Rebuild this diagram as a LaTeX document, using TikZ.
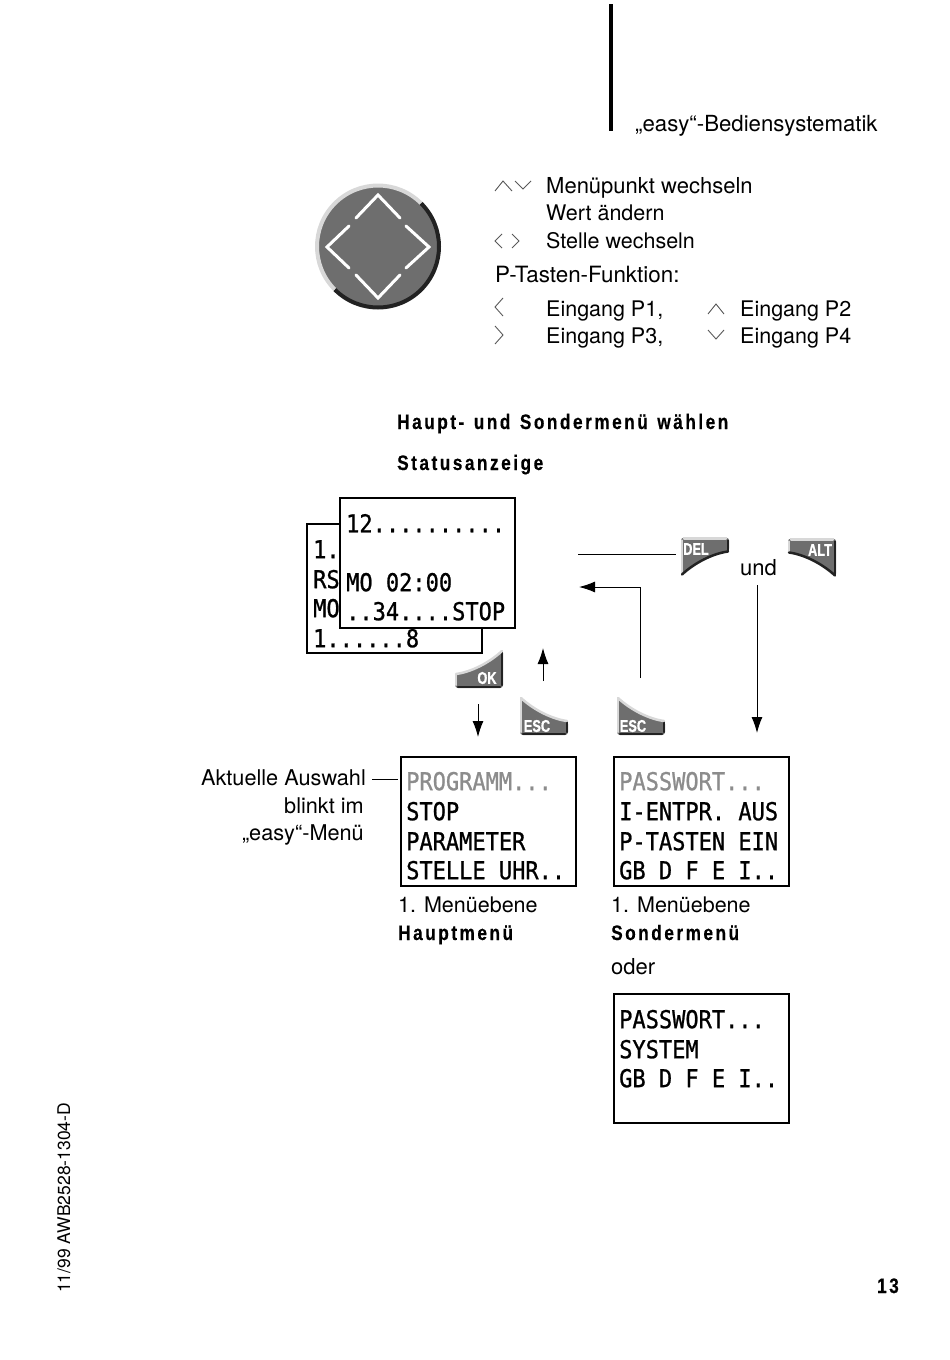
\documentclass[tikz,border=0pt]{standalone}
\usepackage{fontspec}
\usepackage{graphicx}
\usetikzlibrary{arrows.meta}
\setmainfont{TeX Gyre Heros}
\newfontfamily\lcdfont[FakeBold=1]{DejaVu Sans Mono}
\newfontfamily\headfont[LetterSpace=12,WordSpace=1.3,FakeStretch=0.82,FakeBold=0.4]{Liberation Sans}
\newfontfamily\keyfont[FakeStretch=0.75,FakeBold=1]{Liberation Sans}
\definecolor{keygray}{HTML}{6E6E6E}
\definecolor{keylight}{HTML}{D8D8D8}
\definecolor{keydark}{HTML}{222222}
\definecolor{blinkgray}{HTML}{8C8C8C}
\newcommand{\lcdtxt}[1]{\scalebox{1}[1.12]{\lcdfont\fontsize{22}{22}\selectfont #1}}
\tikzset{
  body/.style={anchor=base west, inner sep=0pt, font=\fontsize{22}{26}\selectfont},
  bodynarrow/.style={body, font=\fontsize{21.5}{26}\selectfont},
  bodywide/.style={body, font=\fontsize{22.4}{26}\selectfont},
  bodyright/.style={body, font=\fontsize{21.7}{26}\selectfont, anchor=base east},
  head/.style={anchor=base west, inner sep=0pt, font=\fontsize{21}{25}\selectfont\headfont\bfseries},
  lcdbox/.style={draw=black, fill=white, line width=1.1pt},
  lcdline/.style={anchor=west, inner sep=0pt, yshift=0.8pt},
  keylabel/.style={inner sep=0pt, text=white, font=\fontsize{17}{17}\selectfont\keyfont\bfseries},
  chev/.style={draw=black!65, line width=0.9pt, line join=miter},
  joystick/.style={draw=white, line width=3pt, line cap=round, line join=miter},
  flow/.style={draw=black, line width=1pt},
  flowtip/.style={flow, -{Latex[length=16pt,width=11pt]}},
  % colours: curved edge, short edge, long edge, flat edge
  pics/softkey/.style n args={4}{code={
    \fill[keygray, rounded corners=3pt] (-24,5) .. controls (-8,3) and (10,-6) .. (24,-19) -- (24,19) -- (-24,19) -- cycle;
    \draw[#3, line width=2.5pt, line cap=round] (23,-17) -- (23,16);
    \draw[#4, line width=2.5pt, line cap=round] (21,18) -- (-21,18);
    \draw[#2, line width=2.5pt, line cap=round] (-23,16) -- (-23,6);
    \draw[#1, line width=2.5pt, line cap=round] (-23,5) .. controls (-8,3) and (10,-6) .. (23,-18);
  }},
}
\begin{document}
\begin{tikzpicture}[x=1pt, y=-1pt]
\useasboundingbox (0,0) rectangle (950,1360);
% page head
\draw[line width=3.5pt] (611,4) -- (611,131);
\node[body, font=\fontsize{22.2}{26}\selectfont] (title) at (635,131.5) {„easy“-Bediensystematik};
% four way key
\fill[keygray] (378,246.5) circle (62);
\draw[keylight, line width=4pt] (378,246.5) ++(135:61) arc (135:315:61);
\draw[keydark, line width=4pt] (378,246.5) ++(-45:61) arc (-45:135:61);
\draw[joystick] (356,218) -- (378,195) -- (400,218);
\draw[joystick] (349,226) -- (327,247) -- (349,268);
\draw[joystick] (406,226) -- (429,247) -- (406,268);
\draw[joystick] (356,275) -- (378,298) -- (400,275);
% small key marks
\draw[chev] (495,191) -- (503,181) -- (512,191);
\draw[chev] (515,181) -- (523,189) -- (531,181);
\draw[chev] (502,234) -- (495,241) -- (502,248);
\draw[chev] (512,234) -- (519,241) -- (512,248);
\draw[chev] (503,298) -- (495,307) -- (503,316);
\draw[chev] (495,326) -- (503,335) -- (495,344);
\draw[chev] (708,314) -- (716,304) -- (724,314);
\draw[chev] (708,330) -- (716,339) -- (724,330);
\node[body] (wechseln) at (546,193.5) {Menüpunkt wechseln};
\node[bodynarrow] (aendern) at (546,220.5) {Wert ändern};
\node[bodynarrow] (stelle) at (546,248) {Stelle wechseln};
\node[bodywide] (ptasten) at (495,282.5) {P-Tasten-Funktion:};
\node[bodynarrow] (pone) at (546,316.5) {Eingang P1,};
\node[bodynarrow] (ptwo) at (740,316.5) {Eingang P2};
\node[bodynarrow] (pthree) at (546,343.5) {Eingang P3,};
\node[bodynarrow] (pfour) at (740,343.5) {Eingang P4};
% headings
\node[head] (hauptsonder) at (397,429) {Haupt- und Sondermenü wählen};
\node[head] (status) at (397,470) {Statusanzeige};
% status displays
\draw[lcdbox] (307,524) rectangle (482,653);
\node[lcdline] (back1) at (313,550) {\lcdtxt{1.}};
\node[lcdline] (back2) at (313,580) {\lcdtxt{RS}};
\node[lcdline] (back3) at (313,609) {\lcdtxt{MO}};
\node[lcdline] (back4) at (313,639) {\lcdtxt{1......8}};
\draw[lcdbox] (340,498) rectangle (515,628);
\node[lcdline] (front1) at (346,524) {\lcdtxt{12..........}};
\node[lcdline] (front2) at (346,583) {\lcdtxt{MO 02:00}};
\node[lcdline] (front3) at (346,612) {\lcdtxt{..34....STOP}};
% keys
\pic (okkey) at (479,669) {softkey={keylight}{keylight}{keydark}{keydark}};
\node[keylabel] (oklabel) at (487,678) {OK};
\pic[xscale=-1] (esckeya) at (544,716) {softkey={keylight}{keydark}{keylight}{keydark}};
\node[keylabel] (esca) at (537,726) {ESC};
\pic[xscale=-1] (esckeyb) at (641,716) {softkey={keylight}{keydark}{keylight}{keydark}};
\node[keylabel] (escb) at (633,726) {ESC};
\pic[xscale=-1, yscale=-1] (delkey) at (705,556.5) {softkey={keydark}{keydark}{keylight}{keylight}};
\node[keylabel] (dellabel) at (696,549) {DEL};
\pic[yscale=-1] (altkey) at (812,557.5) {softkey={keydark}{keylight}{keydark}{keylight}};
\node[keylabel] (altlabel) at (820,550) {ALT};
\node[body] (und) at (740,575) {und};
% arrows
\coordinate (delstart) at (578,554);
\coordinate (delend) at (676,554);
\draw[flow] (delstart) -- (delend);
\coordinate (undtop) at (757,585);
\coordinate (undtip) at (757,733);
\draw[flowtip] (undtop) -- (undtip);
\coordinate (okstart) at (478,704);
\coordinate (oktip) at (478,737);
\draw[flowtip] (okstart) -- (oktip);
\coordinate (escastart) at (543,681);
\coordinate (escatip) at (543,648);
\draw[flowtip] (escastart) -- (escatip);
\coordinate (escbstart) at (640,678);
\coordinate (escbtip) at (579,587);
\draw[flowtip] (escbstart) |- (escbtip);
% menu displays
\draw[lcdbox] (401,757) rectangle (576,886);
\draw[lcdbox] (614,757) rectangle (789,886);
\draw[lcdbox] (614,994) rectangle (789,1123);
\node[lcdline, text=blinkgray] (hauptA) at (406,782) {\lcdtxt{PROGRAMM...}};
\node[lcdline] (hauptB) at (406,812) {\lcdtxt{STOP}};
\node[lcdline] (hauptC) at (406,842) {\lcdtxt{PARAMETER}};
\node[lcdline] (hauptD) at (406,871) {\lcdtxt{STELLE UHR..}};
\node[lcdline, text=blinkgray] (sonderA) at (619,782) {\lcdtxt{PASSWORT...}};
\node[lcdline] (sonderB) at (619,812) {\lcdtxt{I-ENTPR. AUS}};
\node[lcdline] (sonderC) at (619,842) {\lcdtxt{P-TASTEN EIN}};
\node[lcdline] (sonderD) at (619,871) {\lcdtxt{GB D F E I..}};
\node[lcdline] (oderA) at (619,1020) {\lcdtxt{PASSWORT...}};
\node[lcdline] (oderB) at (619,1050) {\lcdtxt{SYSTEM}};
\node[lcdline] (oderC) at (619,1079) {\lcdtxt{GB D F E I..}};
% captions
\node[bodyright] (auswahl) at (366,785.5) {Aktuelle Auswahl};
\node[bodyright] (blinkt) at (364,813.5) {blinkt im};
\node[bodyright] (easymenu) at (364,840.5) {„easy“-Menü};
\coordinate (auswahlend) at (372,779);
\coordinate (auswahlbox) at (398,779);
\draw[flow] (auswahlend) -- (auswahlbox);
\node[bodynarrow] (ebenea) at (398,912.5) {1. Menüebene};
\node[head] (hauptmenu) at (398,940) {Hauptmenü};
\node[bodynarrow] (ebeneb) at (611,912.5) {1. Menüebene};
\node[head] (sondermenu) at (611,940) {Sondermenü};
\node[body] (oder) at (611,974) {oder};
% page foot
\node[rotate=90, anchor=base west, inner sep=0pt, font=\fontsize{17.5}{20}\selectfont] (docnr) at (70,1293) {11/99 AWB2528-1304-D};
\node[head, anchor=base east] (pagenr) at (899,1293) {13};
\end{tikzpicture}
\end{document}
